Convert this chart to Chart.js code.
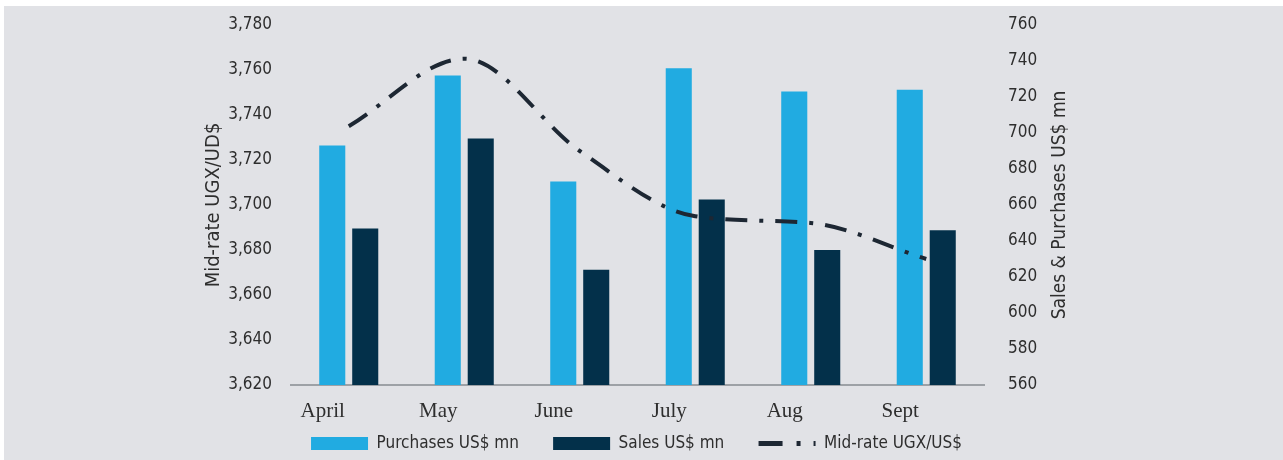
<!DOCTYPE html>
<html>
<head>
  <title>Mid-rate and interventions</title>
  <script src="https://cdn.jsdelivr.net/npm/chart.js"></script>
  <style>
    body {
      margin: 0;
      background: #ffffff;
    }
  </style>
</head>
<body>
  <canvas id="fxChart" width="1283" height="460"></canvas>

  <script>
    const months = ['April', 'May', 'June', 'July', 'Aug', 'Sept'];
    const purchases = [693, 732, 673, 736, 723, 724];
    const sales = [647, 697, 624, 663, 635, 646];
    const midRate = [3735, 3765, 3724, 3695, 3692, 3676];

    const rateMin = 3620, rateMax = 3780, rateStep = 20;
    const flowMin = 560, flowMax = 760, flowStep = 20;

    const narrow = "'Liberation Sans Narrow', 'DejaVu Sans Condensed', sans-serif";
    const textColor = '#2e2e2e';
    const lineColor = '#1d2733';
    const rightTitle = 'Sales & Purchases US$ mn';

    // grey panel behind everything, leaves a thin white edge top and left
    const panelBg = {
      id: 'panelBg',
      beforeDraw(chart) {
        const ctx = chart.ctx;
        ctx.save();
        ctx.fillStyle = '#e1e2e6';
        ctx.fillRect(4, 6, chart.width - 4, chart.height - 6);
        ctx.restore();
      }
    };

    // right axis title reads bottom-to-top in the original, chart.js turns it the other way
    const rightAxisTitle = {
      id: 'rightAxisTitle',
      afterDraw(chart) {
        const s = chart.scales.y1;
        const ctx = chart.ctx;
        ctx.save();
        ctx.translate(s.right - 15, (chart.chartArea.top + chart.chartArea.bottom) / 2);
        ctx.rotate(-Math.PI / 2);
        ctx.fillStyle = textColor;
        ctx.font = "19px " + narrow;
        ctx.textAlign = 'center';
        ctx.textBaseline = 'middle';
        ctx.fillText(rightTitle, 0, 0);
        ctx.restore();
      }
    };

    // fixed axis widths; drop the extra top/bottom room chart.js reserves for tick labels
    const fitY = w => s => {
      s.width = w;
      s.paddingTop = 0;
      s.paddingBottom = 0;
    };

    const ctx = document.getElementById('fxChart').getContext('2d');
    new Chart(ctx, {
      type: 'bar',
      data: {
        labels: months,
        datasets: [
          {
            label: 'Purchases US$ mn',
            data: purchases,
            backgroundColor: '#21abe1',
            yAxisID: 'y1',
            pointStyle: 'rect',
            order: 1,
            categoryPercentage: 0.571,
            barPercentage: 0.79
          },
          {
            label: 'Sales US$ mn',
            data: sales,
            backgroundColor: '#03304a',
            yAxisID: 'y1',
            pointStyle: 'rect',
            order: 1,
            categoryPercentage: 0.571,
            barPercentage: 0.79
          },
          {
            type: 'line',
            label: 'Mid-rate UGX/US$',
            data: midRate,
            borderColor: lineColor,
            backgroundColor: lineColor,
            borderWidth: 4,
            borderDash: [22, 12, 4, 12],
            borderCapStyle: 'butt',
            cubicInterpolationMode: 'monotone',
            pointRadius: 0,
            pointStyle: 'line',
            yAxisID: 'y',
            order: 0
          }
        ]
      },
      plugins: [panelBg, rightAxisTitle],
      options: {
        responsive: false,
        animation: false,
        layout: {
          padding: { left: 198, right: 208, top: 25, bottom: -2 }
        },
        plugins: {
          tooltip: { enabled: false },
          legend: {
            position: 'bottom',
            labels: {
              usePointStyle: true,
              pointStyleWidth: 57,
              boxHeight: 13,
              padding: 10,
              color: textColor,
              font: { family: narrow, size: 17 },
              sort: (a, b) => a.datasetIndex - b.datasetIndex,
              generateLabels(chart) {
                const items = Chart.defaults.plugins.legend.labels.generateLabels(chart);
                items.forEach(it => {
                  if (it.datasetIndex === 2) {
                    it.lineDash = [24, 14, 4, 13, 2, 100];
                    it.lineWidth = 5;
                    it.strokeStyle = lineColor;
                  } else {
                    it.text += '     '; // wider gap between legend entries
                  }
                });
                return items;
              }
            }
          }
        },
        scales: {
          x: {
            grid: { display: false, drawTicks: false },
            border: { display: true, color: '#9da1a6', width: 2 },
            ticks: {
              color: textColor,
              padding: 14,
              labelOffset: -26,
              font: { family: "'Liberation Serif', 'DejaVu Serif', serif", size: 21 }
            },
            afterFit: s => { s.height = 40; }
          },
          y: {
            position: 'left',
            min: rateMin,
            max: rateMax,
            grid: { display: false, drawTicks: false },
            border: { display: false },
            ticks: {
              stepSize: rateStep,
              padding: 19,
              color: textColor,
              font: { family: narrow, size: 17 }
            },
            title: {
              display: true,
              text: 'Mid-rate UGX/UD$',
              color: textColor,
              font: { family: narrow, size: 20 }
            },
            afterFit: fitY(93)
          },
          y1: {
            position: 'right',
            min: flowMin,
            max: flowMax,
            grid: { display: false, drawTicks: false },
            border: { display: false },
            ticks: {
              stepSize: flowStep,
              padding: 24,
              color: textColor,
              font: { family: narrow, size: 17 }
            },
            afterFit: fitY(91)
          }
        }
      }
    });
  </script>
</body>
</html>
